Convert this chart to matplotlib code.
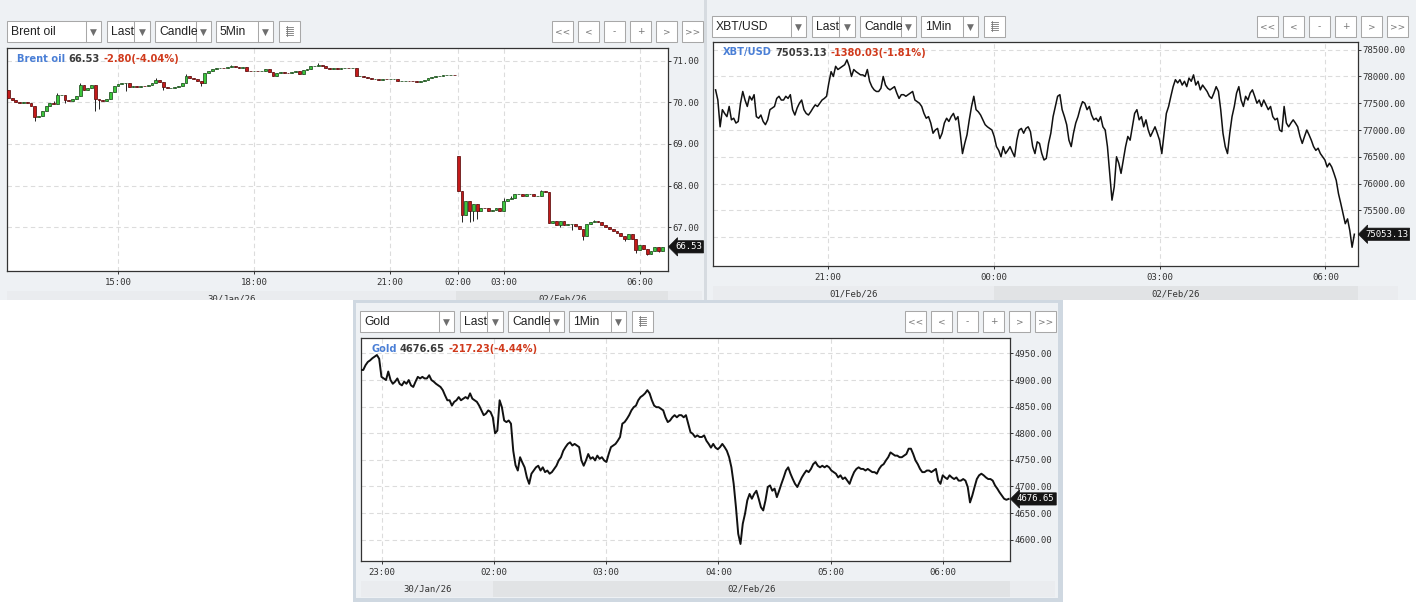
import numpy as np
import pandas as pd
import matplotlib
matplotlib.use("Agg")
import matplotlib.pyplot as plt
from matplotlib.patches import Rectangle
from matplotlib.ticker import FormatStrFormatter
from matplotlib.transforms import blended_transform_factory

W, H = 1416, 602

# ---------------- data ----------------
# Brent oil, 5Min candles: 30/Jan 12:35-22:25 and 02/Feb 02:00-06:30
BRENT_SESSIONS = [("2026-01-30 12:35", "2026-01-30 22:25"),
                  ("2026-02-02 02:00", "2026-02-02 06:30")]
BRENT_SESSION_OPEN = [70.30, 68.72]
BRENT_CLOSE = [
    70.10, 70.05, 70.00, 69.98, 70.00, 69.98, 69.92, 69.64, 69.68, 69.80,
    69.92, 69.97, 69.96, 70.18, 70.18, 70.05, 70.04, 70.08, 70.14, 70.42,
    70.30, 70.34, 70.42, 70.08, 70.05, 70.02, 70.08, 70.25, 70.38, 70.43,
    70.45, 70.46, 70.36, 70.38, 70.37, 70.39, 70.38, 70.42, 70.47, 70.53,
    70.48, 70.36, 70.33, 70.35, 70.36, 70.38, 70.46, 70.64, 70.58, 70.56,
    70.52, 70.45, 70.70, 70.75, 70.79, 70.81, 70.82, 70.81, 70.84, 70.86,
    70.84, 70.83, 70.84, 70.76, 70.74, 70.75, 70.74, 70.76, 70.79, 70.72,
    70.64, 70.70, 70.72, 70.70, 70.69, 70.73, 70.76, 70.68, 70.77, 70.80,
    70.86, 70.86, 70.89, 70.88, 70.82, 70.80, 70.81, 70.80, 70.81, 70.82,
    70.81, 70.81, 70.62, 70.62, 70.60, 70.59, 70.55, 70.55, 70.54, 70.56,
    70.55, 70.55, 70.55, 70.51, 70.52, 70.52, 70.51, 70.50, 70.49, 70.52,
    70.54, 70.57, 70.61, 70.62, 70.63, 70.65, 70.66, 70.66, 70.65,
    67.86, 67.30, 67.62, 67.38, 67.55, 67.38, 67.47, 67.45, 67.40, 67.42,
    67.47, 67.40, 67.62, 67.68, 67.70, 67.80, 67.80, 67.75, 67.80, 67.80,
    67.74, 67.76, 67.86, 67.84, 67.10, 67.14, 67.05, 67.15, 67.05, 67.07,
    67.08, 67.02, 66.95, 66.78, 67.08, 67.12, 67.14, 67.12, 67.05, 67.00,
    66.95, 66.92, 66.85, 66.78, 66.72, 66.84, 66.72, 66.46, 66.57, 66.48,
    66.35, 66.44, 66.53, 66.42, 66.53,
]
# wicks that stick out of the bodies (bar index -> price)
BRENT_LOW = {7: 69.55, 15: 69.98, 23: 69.80, 24: 69.84, 31: 70.28, 41: 70.30,
             51: 70.40, 120: 67.12, 122: 67.12, 123: 67.16, 124: 67.20,
             146: 67.00, 149: 66.94, 152: 66.70, 163: 66.66, 166: 66.37,
             169: 66.33, 172: 66.40}
BRENT_HIGH = {12: 70.02, 13: 70.22, 19: 70.46, 39: 70.57, 47: 70.67, 59: 70.90,
              82: 70.93, 131: 67.70, 133: 67.75, 141: 67.89, 155: 67.17}
BRENT_TICKS = ["15:00", "18:00", "21:00", "02:00", "03:00", "06:00"]
BRENT_YTICKS = [67, 68, 69, 70, 71]

# XBT/USD, minutes after 21:00 (01/Feb)
XBT_START_MIN = -122.0
XBT_STEP_MIN = 2.459
XBT_PRICE = [
    77750, 77560, 77060, 77380, 77310, 77250, 77440, 77190, 77220, 77130,
    77160, 77500, 77720, 77560, 77440, 77630, 77560, 77660, 77250, 77220,
    77280, 77160, 77100, 77190, 77380, 77410, 77440, 77590, 77630, 77560,
    77560, 77630, 77590, 77660, 77380, 77280, 77410, 77500, 77560, 77380,
    77310, 77280, 77340, 77410, 77470, 77440, 77500, 77560, 77590, 77630,
    77880, 78090, 78000, 78190, 78130, 78160, 78190, 78220, 78310, 78190,
    78000, 78130, 78090, 78060, 78030, 78030, 78000, 78130, 77910, 77810,
    77750, 77720, 77720, 77780, 78000, 77840, 77780, 77750, 77780, 77810,
    77690, 77590, 77660, 77660, 77630, 77660, 77690, 77720, 77560, 77530,
    77500, 77440, 77310, 77220, 77250, 77130, 76940, 77000, 77030, 76840,
    76940, 77130, 77220, 77160, 77250, 77310, 77190, 77250, 76940, 76560,
    76750, 76910, 77190, 77440, 77630, 77380, 77340, 77280, 77190, 77100,
    77060, 77030, 77000, 76880, 76690, 76620, 76500, 76690, 76560, 76620,
    76690, 76590, 76500, 76810, 77000, 77030, 76940, 77030, 77060, 76970,
    76690, 76560, 76780, 76750, 76560, 76440, 76470, 76750, 76940, 77250,
    77440, 77630, 77660, 77380, 77250, 77100, 76810, 76690, 76940, 77130,
    77250, 77410, 77530, 77500, 77380, 77440, 77280, 77190, 77220, 77160,
    77250, 77060, 77000, 76690, 76190, 75690, 75940, 76500, 76380, 76190,
    76440, 76690, 76880, 76810, 77060, 77310, 77380, 77190, 77250, 77060,
    77190, 77000, 76880, 76970, 77060, 76940, 76810, 76560, 76940, 77310,
    77440, 77630, 77810, 77940, 77880, 77940, 77840, 77910, 77810, 77970,
    77910, 78030, 77840, 77910, 77750, 77840, 77780, 77720, 77630, 77590,
    77690, 77810, 77720, 77380, 76940, 76690, 76560, 76940, 77250, 77440,
    77690, 77810, 77560, 77440, 77630, 77560, 77690, 77750, 77630, 77500,
    77560, 77440, 77560, 77470, 77380, 77440, 77250, 77190, 77220, 77000,
    76970, 77440, 77130, 77060, 77130, 77190, 77130, 77060, 76880, 76750,
    76880, 77000, 76910, 76810, 76690, 76620, 76660, 76560, 76500, 76440,
    76310, 76380, 76310, 76190, 76060, 75810, 75630, 75440, 75250, 75340,
    75120, 74810, 75053.13,
]
XBT_TICK_MIN = [0, 180, 360, 540]
XBT_TICKS = ["21:00", "00:00", "03:00", "06:00"]
XBT_DAY_SPLIT_MIN = 180
XBT_DATES = ["01/Feb/26", "02/Feb/26"]
XBT_YTICKS = [75500, 76000, 76500, 77000, 77500, 78000, 78500]
XBT_HIDDEN_GRID = [75000]   # grid line whose label sits under the price box

# Gold, session minutes after 23:00 (30/Jan); 02/Feb 02:00 follows 30/Jan 23:59
GOLD_START_MIN = -11.2
GOLD_STEP_MIN = 1.2157
GOLD_PRICE = [
    4919, 4919, 4928, 4934, 4937, 4941, 4944, 4947, 4940, 4906,
    4903, 4900, 4916, 4900, 4893, 4897, 4903, 4893, 4890, 4897,
    4893, 4900, 4890, 4887, 4897, 4906, 4903, 4906, 4903, 4903,
    4909, 4900, 4897, 4893, 4890, 4887, 4881, 4871, 4862, 4862,
    4852, 4859, 4862, 4868, 4862, 4865, 4868, 4865, 4875, 4865,
    4862, 4859, 4852, 4843, 4834, 4837, 4843, 4840, 4830, 4800,
    4805, 4862, 4849, 4824, 4821, 4824, 4818, 4767, 4740, 4730,
    4755, 4745, 4736, 4717, 4705, 4724, 4730, 4736, 4739, 4730,
    4736, 4727, 4730, 4724, 4727, 4733, 4739, 4749, 4755, 4767,
    4774, 4780, 4783, 4777, 4780, 4777, 4774, 4749, 4739, 4749,
    4761, 4752, 4755, 4749, 4758, 4752, 4755, 4749, 4746, 4761,
    4774, 4777, 4780, 4786, 4793, 4818, 4821, 4827, 4834, 4843,
    4849, 4852, 4862, 4868, 4871, 4875, 4881, 4875, 4862, 4852,
    4849, 4849, 4846, 4843, 4830, 4821, 4824, 4830, 4834, 4830,
    4834, 4834, 4830, 4834, 4818, 4802, 4799, 4793, 4796, 4793,
    4793, 4796, 4786, 4780, 4773, 4780, 4773, 4770, 4774, 4780,
    4774, 4767, 4755, 4736, 4705, 4661, 4611, 4592, 4630, 4649,
    4674, 4686, 4677, 4686, 4692, 4677, 4661, 4655, 4674, 4699,
    4702, 4692, 4696, 4680, 4692, 4705, 4717, 4730, 4736, 4724,
    4714, 4705, 4699, 4708, 4717, 4724, 4730, 4727, 4733, 4742,
    4746, 4739, 4736, 4739, 4736, 4739, 4736, 4730, 4727, 4724,
    4717, 4721, 4714, 4717, 4711, 4705, 4717, 4727, 4733, 4736,
    4733, 4733, 4730, 4733, 4730, 4727, 4727, 4724, 4733, 4739,
    4742, 4749, 4755, 4764, 4761, 4758, 4758, 4755, 4755, 4758,
    4761, 4771, 4771, 4761, 4749, 4742, 4733, 4727, 4727, 4730,
    4730, 4727, 4730, 4733, 4711, 4705, 4721, 4717, 4714, 4721,
    4717, 4714, 4717, 4711, 4711, 4714, 4711, 4699, 4670, 4683,
    4699, 4714, 4721, 4724, 4721, 4717, 4714, 4714, 4711, 4702,
    4696, 4689, 4683, 4677, 4675, 4676.65,
]
GOLD_TICK_MIN = [0, 60, 120, 180, 240, 300]
GOLD_TICKS = ["23:00", "02:00", "03:00", "04:00", "05:00", "06:00"]
GOLD_DAY_SPLIT_MIN = 59.6
GOLD_DATES = ["30/Jan/26", "02/Feb/26"]
GOLD_YTICKS = [4600, 4650, 4700, 4750, 4800, 4850, 4900, 4950]

HEADERS = {
    "brent": ("Brent oil", "66.53", "-2.80(-4.04%)"),
    "xbt": ("XBT/USD", "75053.13", "-1380.03(-1.81%)"),
    "gold": ("Gold", "4676.65", "-217.23(-4.44%)"),
}

# ---------------- style ----------------
PANEL_BG = "#eef1f4"
BAND_LIGHT = "#eaecef"
BAND_DARK = "#e1e3e5"
BORDER = "#a8a8a8"
TXT = "#333333"
MONO = "DejaVu Sans Mono"
plt.rcParams["font.family"] = MONO


def frac(x, y, w, h):
    return [x / W, 1 - (y + h) / H, w / W, h / H]


fig = plt.figure(figsize=(W / 100, H / 100), dpi=100)
fig.patch.set_facecolor("white")

# background for the two upper panels (pixel coordinates)
bg = fig.add_axes([0, 0, 1, 1], zorder=0)
bg.set_xlim(0, W)
bg.set_ylim(H, 0)
bg.axis("off")
bg.add_patch(Rectangle((0, 0), W, 300, fc=PANEL_BG, ec="none"))
bg.add_patch(Rectangle((704, 0), 3, 300, fc="#d6dbe0", ec="none"))

# background for the lower panel, drawn above the upper charts
low = fig.add_axes(frac(0, 300, W, 302), zorder=3)
low.set_xlim(0, W)
low.set_ylim(H, 300)
low.axis("off")
low.add_patch(Rectangle((0, 300), W, 302, fc="white", ec="none"))
low.add_patch(Rectangle((353, 300), 710, 302, fc="#cfd8e1", ec="none"))
low.add_patch(Rectangle((356, 303), 702, 295, fc=PANEL_BG, ec="none"))

top = fig.add_axes([0, 0, 1, 1], zorder=10)
top.set_xlim(0, W)
top.set_ylim(H, 0)
top.axis("off")
top.patch.set_alpha(0)


def combo(a, x, y, w, label, aw=15, h=21):
    a.add_patch(Rectangle((x, y), w, h, fc="white", ec=BORDER, lw=0.75))
    a.plot([x + w - aw, x + w - aw], [y, y + h], color=BORDER, lw=0.75)
    t = a.text(x + 4, y + h / 2 + 0.5, label, fontsize=8.7, family="Liberation Sans",
               color="#222222", ha="left", va="center")
    t.set_clip_path(Rectangle((x, y), w - aw, h, transform=a.transData))
    a.text(x + w - aw / 2, y + h / 2 + 0.5, "\u25bc", fontsize=6.5, color="#6e6e6e",
           family="DejaVu Sans", ha="center", va="center")


def button(a, x, y, label, w=21, h=21):
    a.add_patch(Rectangle((x, y), w, h, fc="white", ec=BORDER, lw=0.75))
    if label:
        a.text(x + w / 2, y + h / 2, label, fontsize=6.5, color="#777777",
               family="DejaVu Sans", ha="center", va="center")


def toolbar(a, x0, y0, symbol, interval, bx0):
    combo(a, x0, y0, 94, symbol)
    combo(a, x0 + 100, y0, 43, "Last", aw=16)
    combo(a, x0 + 148, y0, 56, "Candle")
    combo(a, x0 + 209, y0, 57, interval)
    button(a, x0 + 272, y0, "")
    for k in range(5):
        a.plot([x0 + 279, x0 + 286], [y0 + 6 + 2 * k] * 2, color="#777777", lw=0.6)
    a.plot([x0 + 280, x0 + 280], [y0 + 5, y0 + 15], color="#777777", lw=0.6)
    for i, lab in enumerate(["<<", "<", "-", "+", ">", ">>"]):
        button(a, bx0 + 26 * i, y0, lab)


toolbar(bg, 7, 21, "Brent oil", "5Min", 552)
toolbar(bg, 712, 16, "XBT/USD", "1Min", 1257)
toolbar(low, 360, 311, "Gold", "1Min", 905)


def chart(px, xlim, ylim, yticks, xticks, xlabels, z, hidden_grid=()):
    ax = fig.add_axes(frac(*px), zorder=z)
    ax.set_facecolor("white")
    ax.set_xlim(*xlim)
    ax.set_ylim(*ylim)
    for s in ax.spines.values():
        s.set_color("#333333")
        s.set_linewidth(0.9)
    ax.yaxis.tick_right()
    ax.set_yticks(yticks)
    ax.set_yticks(list(hidden_grid), minor=True)
    ax.yaxis.set_major_formatter(FormatStrFormatter("%.2f"))
    ax.set_xticks(xticks)
    ax.set_xticklabels(xlabels)
    ax.tick_params(axis="y", direction="out", length=2.2, width=0.7, colors=TXT,
                   pad=1, labelsize=6.5)
    ax.tick_params(axis="y", which="minor", length=0)
    ax.tick_params(axis="x", direction="out", length=2.2, width=0.7, colors=TXT,
                   pad=2.5, labelsize=6.5)
    ax.grid(True, which="both", color="#dcdcdc", linestyle=(0, (4, 3)), linewidth=0.8)
    ax.set_axisbelow(True)
    return ax


def last_label(ax, value):
    ax.annotate(f"{value:.2f}", xy=(1, value), xycoords=("axes fraction", "data"),
                xytext=(7, 0), textcoords="offset pixels", ha="left", va="center",
                fontsize=6.5, family=MONO, color="white",
                bbox=dict(boxstyle="larrow,pad=0.18", fc="#151515", ec="#151515", lw=0.5),
                annotation_clip=False, zorder=10)


def date_band(a_bg, ax, px, panel_right, split, labels):
    x, y, w, h = px
    a_bg.add_patch(Rectangle((x, y + h + 20), panel_right - x, 15.5, fc=BAND_LIGHT, ec="none"))
    tr = blended_transform_factory(ax.transData, ax.transAxes)
    y0 = -(20 + 15.5) / h
    hh = 15.5 / h
    x0, x1 = ax.get_xlim()
    ax.add_patch(Rectangle((split, y0), x1 - split, hh, transform=tr, fc=BAND_DARK,
                           ec="none", clip_on=False))
    ax.text((x0 + split) / 2, y0 + hh / 2, labels[0], transform=tr, ha="center",
            va="center", fontsize=6.5, color=TXT)
    ax.text((split + x1) / 2, y0 + hh / 2, labels[1], transform=tr, ha="center",
            va="center", fontsize=6.5, color=TXT)


def header(px, parts):
    x, y = px[0] + 10, px[1] + 10.5
    r = fig.canvas.get_renderer()
    for s, c in zip(parts, ["#4a7fd6", "#3a3a3a", "#d03a1c"]):
        t = top.text(x, y, s, color=c, fontsize=7.1, fontweight="bold",
                     family="DejaVu Sans", ha="left", va="center")
        x += t.get_window_extent(r).width + 3.5


# ---------------- Brent ----------------
ranges = [pd.date_range(a, b, freq="5min") for a, b in BRENT_SESSIONS]
times = ranges[0].append(ranges[1])
close = np.array(BRENT_CLOSE)
opn = np.r_[np.nan, close[:-1]]
starts = [0, len(ranges[0])]
opn[starts] = BRENT_SESSION_OPEN
hi = np.maximum(opn, close)
lo = np.minimum(opn, close)
for k, v in BRENT_HIGH.items():
    hi[k] = v
for k, v in BRENT_LOW.items():
    lo[k] = v
bx = np.arange(len(close))
hhmm = list(times.strftime("%H:%M"))
bticks = [hhmm.index(t) for t in BRENT_TICKS]

brent_px = (7, 48, 661, 223)
ax1 = chart(brent_px, (-0.35, 174.5), (65.95, 71.30), BRENT_YTICKS, bticks, BRENT_TICKS, 2)
ax1.vlines(bx, lo, hi, color="#222222", lw=0.7, zorder=3)
up = close >= opn
ax1.bar(bx[up], (close - opn)[up], bottom=opn[up], width=0.75, color="#3cc63c",
        edgecolor="#1f4f1f", linewidth=0.55, zorder=4)
ax1.bar(bx[~up], (close - opn)[~up], bottom=opn[~up], width=0.75, color="#c41a1a",
        edgecolor="#5c0d0d", linewidth=0.55, zorder=4)
last_label(ax1, close[-1])
date_band(bg, ax1, brent_px, 702, starts[1] - 0.5,
          list(times[starts].strftime("%d/%b/%y")))
header(brent_px, HEADERS["brent"])

# ---------------- XBT/USD ----------------
xbt = np.array(XBT_PRICE)
xm = XBT_START_MIN + XBT_STEP_MIN * np.arange(len(xbt))
xbt_px = (713, 42, 645, 224)
ax2 = chart(xbt_px, (-124.8, 575.4), (74460, 78644), XBT_YTICKS, XBT_TICK_MIN, XBT_TICKS, 2,
            hidden_grid=XBT_HIDDEN_GRID)
ax2.plot(xm, xbt, color="#111111", lw=1.1, zorder=3)
last_label(ax2, xbt[-1])
date_band(bg, ax2, xbt_px, 1398, XBT_DAY_SPLIT_MIN, XBT_DATES)
header(xbt_px, HEADERS["xbt"])

# ---------------- Gold ----------------
gold = np.array(GOLD_PRICE)
gm = GOLD_START_MIN + GOLD_STEP_MIN * np.arange(len(gold))
gold_px = (361, 338, 649, 223)
ax3 = chart(gold_px, (-11.2, 336.0), (4560, 4979), GOLD_YTICKS, GOLD_TICK_MIN, GOLD_TICKS, 4)
ax3.plot(gm, gold, color="#111111", lw=1.4, zorder=3)
last_label(ax3, gold[-1])
date_band(low, ax3, gold_px, 1055, GOLD_DAY_SPLIT_MIN, GOLD_DATES)
header(gold_px, HEADERS["gold"])

fig.savefig("out.png", dpi=100, facecolor="white")
